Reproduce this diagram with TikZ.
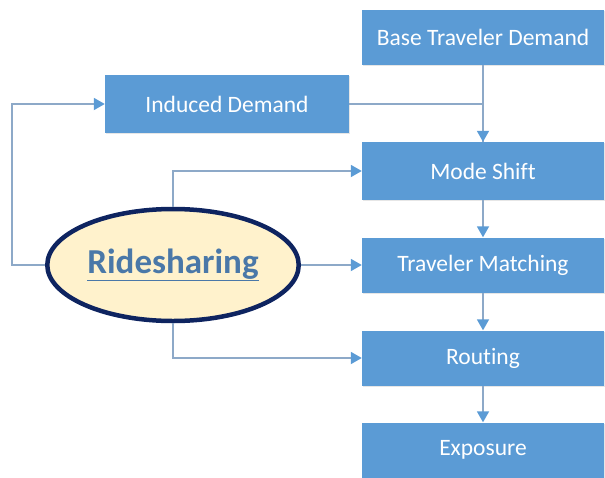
\documentclass[tikz,border=0pt]{standalone}
\usepackage{fontspec}
\setmainfont{Carlito}[Ligatures=NoCommon]
\usetikzlibrary{arrows.meta,shapes.geometric,shadows}
\definecolor{boxblue}{HTML}{5B9BD5}
\definecolor{lineblue}{HTML}{8DA9C8}
\definecolor{navy}{HTML}{0E2460}
\definecolor{cream}{HTML}{FFF2CC}
\definecolor{textblue}{HTML}{4A78A8}

\begin{document}
\begin{tikzpicture}[
  x = 1pt, y = -1pt,
  stage/.style = {rectangle, fill=boxblue, text=white, minimum width=242pt, minimum height=55pt,
    font=\fontsize{23.5}{27}\selectfont, drop shadow={opacity=0.2, shadow xshift=1pt, shadow yshift=-1pt}},
  hub/.style = {ellipse, fill=cream, draw=navy, line width=4.5pt, minimum width=244pt, minimum height=112pt,
    text=textblue, font=\fontsize{35}{40}\selectfont\bfseries},
  link/.style = {draw=lineblue, line width=1.8pt},
  flow/.style = {link, -{Triangle[width=12pt, length=11pt, color=boxblue]}},
  ]
  \useasboundingbox (0,0) rectangle (605,477);

  % right column
  \node[stage] (base) at (483,37) {Base Traveler Demand};
  \node[stage, minimum height=58pt] (mode) at (483,171) {Mode Shift};
  \node[stage] (match) at (483,265) {Traveler Matching};
  \node[stage] (routing) at (483,358) {Routing};
  \node[stage] (exposure) at (483,450) {Exposure};

  % left side
  \node[stage, minimum width=244pt, minimum height=58pt] (induced) at (227,104) {Induced Demand};
  \node[hub] (ride) at (173,265) {\underline{Ridesharing}};
  \coordinate (loop) at (12,265);

  % connectors
  \draw[link] (induced.east) -| (mode.north);
  \draw[flow] (base) -- (mode);
  \draw[flow] (mode) -- (match);
  \draw[flow] (match) -- (routing);
  \draw[flow] (routing) -- (exposure);
  \draw[flow] (ride.north) |- (mode.west);
  \draw[flow] (ride.east) -- (match.west);
  \draw[flow] (ride.south) |- (routing.west);
  \draw[flow] (ride.west) -- (loop) |- (induced.west);
\end{tikzpicture}
\end{document}
